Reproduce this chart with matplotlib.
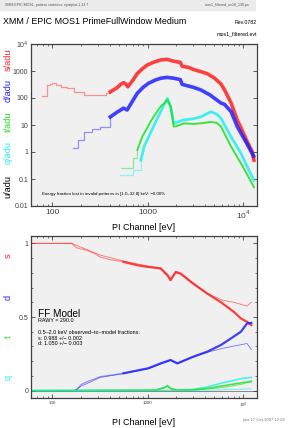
import numpy as np
import matplotlib
matplotlib.use('Agg')
from matplotlib import pyplot as plt
from matplotlib.patches import Rectangle

plt.rcParams['font.family'] = ['Liberation Sans', 'DejaVu Sans']

# ---- top panel: pattern spectra (PI channel [eV] vs counts/adu)
E_s = [78, 84, 88, 95, 100, 110, 125, 143, 170, 214, 260, 320, 370, 407, 470, 530, 560, 590, 620,
       700, 780, 880, 990, 1150, 1370, 1600, 1880, 2200, 2300, 2700, 3000, 3600, 4200, 5000,
       5870, 6400, 7500, 8700, 9500, 11000, 12500, 13000]
s_top = [118, 118, 300, 330, 370, 300, 260, 230, 170, 130, 125, 130, 150, 170, 230, 330, 370, 330, 260,
         450, 810, 1200, 1660, 2100, 2570, 2700, 2300, 2100, 1500, 1350, 1150, 950, 800, 550,
         330, 200, 65, 15, 8, 2.5, 1.0, 0.5]

E_d = [165, 180, 185, 214, 260, 320, 407, 480, 560, 610, 700, 780, 900, 1020, 1200, 1370, 1600,
       1880, 2200, 2300, 3000, 3600, 4500, 5870, 6400, 7500, 8700, 9500, 11000, 12900]
d_top = [1.4, 1.4, 2.8, 5.6, 7, 8.7, 20, 30, 42, 36, 80, 150, 250, 350, 460, 540, 580,
         540, 480, 320, 250, 200, 130, 65, 58, 31, 8.7, 5, 2, 0.7]

E_t = [520, 680, 700, 780, 880, 990, 1070, 1200, 1370, 1500, 1610, 1740, 1880, 2000, 2390,
       3000, 3600, 4600, 5300, 5870, 7480, 9500, 11000, 13000]
t_top = [0.26, 0.26, 0.6, 1.2, 3.7, 7.8, 13, 25, 48, 65, 85, 48, 8.7, 9, 11.5,
         11, 11.5, 13, 12, 8.7, 1.6, 0.38, 0.15, 0.05]

E_q = [510, 640, 700, 850, 920, 990, 1200, 1370, 1500, 1610, 1740, 1880, 2390, 3000, 3600, 4600,
       5300, 5870, 7480, 9500, 11000, 13000]
q_top = [0.14, 0.14, 0.21, 0.5, 1.6, 2.8, 12, 31, 60, 97, 50, 11.5, 15.5, 17, 20, 31,
         25, 17.7, 3.7, 0.9, 0.3, 0.09]

# ---- bottom panel: pattern fractions, observed and model
E_sf = [60, 160, 180, 230, 280, 320, 400, 560, 800, 1020, 1370, 1610, 1740, 1970, 2220, 3000,
        4200, 5870, 8000, 9500, 11000, 12200]
s_frac = [1.0, 1.0, 0.97, 0.953, 0.93, 0.907, 0.89, 0.874, 0.85, 0.84, 0.83, 0.784, 0.75, 0.806,
          0.795, 0.727, 0.66, 0.60, 0.535, 0.49, 0.467, 0.445]
E_sm = [60, 160, 320, 560, 1020, 1370, 1610, 1740, 1970, 2220, 3000, 4200, 6100, 8000, 11000, 12200]
s_mod = [1.0, 1.0, 0.92, 0.88, 0.845, 0.83, 0.79, 0.76, 0.80, 0.79, 0.727, 0.66, 0.614, 0.60, 0.574, 0.60]

E_df = [60, 170, 185, 200, 230, 280, 320, 560, 1020, 1370, 1740, 2050, 3000, 4200, 5870, 7480,
        9500, 11000, 12200]
d_frac = [0.0, 0.0, 0.01, 0.04, 0.06, 0.08, 0.095, 0.118, 0.152, 0.185, 0.208, 0.185, 0.23,
          0.264, 0.31, 0.355, 0.40, 0.456, 0.46]
E_dm = [60, 170, 200, 320, 560, 1020, 1370, 1740, 2050, 3000, 4200, 6100, 11000, 12200]
d_mod = [0.0, 0.0, 0.03, 0.09, 0.115, 0.15, 0.18, 0.205, 0.185, 0.23, 0.26, 0.287, 0.32, 0.28]

E_tf = [60, 1200, 1500, 1610, 1740, 2000, 3000, 4200, 5870, 8000, 10000, 12200]
t_frac = [0.0, 0.003, 0.02, 0.032, 0.015, 0.003, 0.005, 0.015, 0.03, 0.045, 0.055, 0.06]
q_frac = [0.0, 0.003, 0.02, 0.035, 0.015, 0.003, 0.008, 0.025, 0.05, 0.07, 0.084, 0.09]
E_tm = [60, 3000, 6000, 10000, 12200]
t_mod = [0.0, 0.003, 0.02, 0.045, 0.07]
q_mod = [0.0, 0.001, 0.005, 0.01, 0.012]

RED, BLUE, GREEN, CYAN = '#ff2020', '#2020ff', '#20e020', '#20f0f0'
BG = '#f0f0f0'
EDGE = '#404040'

fig = plt.figure(figsize=(2.89, 4.28), dpi=100)

# header strip
fig.patches.append(Rectangle((0, 1 - 10/428), 255/289, 10/428, transform=fig.transFigure,
                             color='#ebebeb', zorder=0))
fig.text(5/289, 1 - 5/428, 'XMM EPIC MOS1, pattern statistics: epatplot-1.13.7',
         fontsize=2.6, color='#555555', va='center')
fig.text(250/289, 1 - 5/428, 'mos1_filtered_ev18_130.ps', fontsize=2.6, color='#555555',
         va='center', ha='right')
fig.text(3/289, 1 - 22/428, 'XMM / EPIC MOS1 PrimeFullWindow Medium', fontsize=6.4, va='center')
fig.text(257/289, 1 - 22/428, 'Rev.0782', fontsize=3.8, va='center', ha='right')
fig.text(257/289, 1 - 34/428, 'mos1_filtered.evt', fontsize=3.8, va='center', ha='right')
fig.text(285/289, 1 - 420/428, 'jima 17-Oct-2007 12:29', fontsize=3, color='#777777',
         va='center', ha='right')


def style(ax):
    ax.set_facecolor(BG)
    for sp in ax.spines.values():
        sp.set_color(EDGE)
        sp.set_linewidth(0.9)
    ax.tick_params(which='both', direction='in', top=True, right=True, colors=EDGE)
    ax.tick_params(which='major', length=3, width=0.6)
    ax.tick_params(which='minor', length=1.5, width=0.5)


def spectrum(ax, e, v, col, e_cut, lw, steps=True):
    # sparse low-energy bins: thin light line; well-filled bins: thick noisy band
    e = np.asarray(e, float)
    v = np.asarray(v, float)
    lo = e <= e_cut
    if steps:
        ax.step(e[lo], v[lo], where='post', color=col, lw=0.9, alpha=0.45)
    else:
        ax.plot(e[lo], v[lo], color=col, lw=0.9, alpha=0.45)
    hi = e >= e[lo][-1]
    ax.plot(e[hi], v[hi], color=col, lw=lw, alpha=0.85, solid_joinstyle='round')


# ---- top axes
ax1 = fig.add_axes([31/289, 1 - 206/428, 226/289, 162/428])
style(ax1)
ax1.set_xscale('log')
ax1.set_yscale('log')
ax1.set_xlim(60, 14000)
ax1.set_ylim(0.01, 1e4)

spectrum(ax1, E_s, s_top, RED, 407, 2.6)
spectrum(ax1, E_d, d_top, BLUE, 407, 2.6)
spectrum(ax1, E_q, q_top, CYAN, 850, 2.0)
spectrum(ax1, E_t, t_top, GREEN, 780, 1.4)

ax1.set_yticks([0.01, 0.1, 1, 10, 100, 1000, 1e4])
ax1.set_yticklabels(['0.01', '0.1', '1', '10', '100', '1000', '10$^4$'], fontsize=5)
ax1.set_xticks([100, 1000, 1e4])
ax1.set_xticklabels(['100', '1000', '10$^4$'], fontsize=6)
ax1.tick_params(axis='x', pad=2)
ax1.tick_params(axis='y', pad=2)
ax1.set_xlabel('PI Channel [eV]', fontsize=6.5, labelpad=1)
ax1.text(0.05, 0.068, 'Energy fraction lost in invalid patterns in [1.0\u201332.8] keV: \u22120.00%',
         transform=ax1.transAxes, fontsize=3.2)

for lab, col, ypx in [('s/adu', RED, 60), ('d/adu', BLUE, 90), ('t/adu', GREEN, 122),
                      ('q/adu', CYAN, 152), ('u/adu', 'black', 187)]:
    fig.text(8/289, 1 - ypx/428, lab, color=col, fontsize=6.6, rotation=90,
             va='center', ha='center')

# ---- bottom axes
ax2 = fig.add_axes([31/289, 1 - 398/428, 226/289, 162/428])
style(ax2)
ax2.set_xscale('log')
ax2.set_xlim(60, 14000)
ax2.set_ylim(-0.05, 1.05)

ax2.axhline(0, color='#606060', lw=0.5, zorder=0)
spectrum(ax2, E_sf, s_frac, RED, 560, 1.6, steps=False)
ax2.plot(E_sm, s_mod, color=RED, lw=0.6, alpha=0.6)
spectrum(ax2, E_df, d_frac, BLUE, 560, 1.6, steps=False)
ax2.plot(E_dm, d_mod, color=BLUE, lw=0.6, alpha=0.6)
ax2.plot(E_tf, q_frac, color=CYAN, lw=1.2, alpha=0.8)
ax2.plot(E_tf, t_frac, color=GREEN, lw=1.2, alpha=0.8)
ax2.plot(E_tm, t_mod, color=GREEN, lw=0.6, alpha=0.7)
ax2.plot(E_tm, q_mod, color=CYAN, lw=0.6, alpha=0.7)

ax2.set_yticks([0, 0.5, 1])
ax2.set_yticklabels(['0', '0.5', '1'], fontsize=5)
ax2.set_yticks(np.arange(0, 1.01, 0.1), minor=True)
ax2.set_xticks([100, 1000, 1e4])
ax2.set_xticklabels(['100', '1000', '10$^4$'], fontsize=3.2)
ax2.tick_params(axis='x', pad=2)
ax2.tick_params(axis='y', pad=2)
ax2.set_xlabel('PI Channel [eV]', fontsize=6.5, labelpad=6)

ax2.text(0.03, 0.50, 'FF Model', transform=ax2.transAxes, fontsize=7.2, va='baseline')
ax2.text(0.03, 0.469, 'RAWY = 290.0', transform=ax2.transAxes, fontsize=3.85, va='baseline')
ax2.text(0.03, 0.395, '0.5\u20132.0 keV observed\u2013to\u2013model fractions:',
         transform=ax2.transAxes, fontsize=3.85, va='baseline')
ax2.text(0.03, 0.36, 's: 0.988 +/\u2212 0.002', transform=ax2.transAxes, fontsize=3.85,
         va='baseline')
ax2.text(0.03, 0.325, 'd: 1.050 +/\u2212 0.003', transform=ax2.transAxes, fontsize=3.85,
         va='baseline')

for lab, col, ypx in [('s', RED, 256), ('d', BLUE, 297), ('t', GREEN, 337), ('q', CYAN, 377)]:
    fig.text(8/289, 1 - ypx/428, lab, color=col, fontsize=6.6, rotation=90,
             va='center', ha='center')

fig.savefig('out.png', dpi=100)
